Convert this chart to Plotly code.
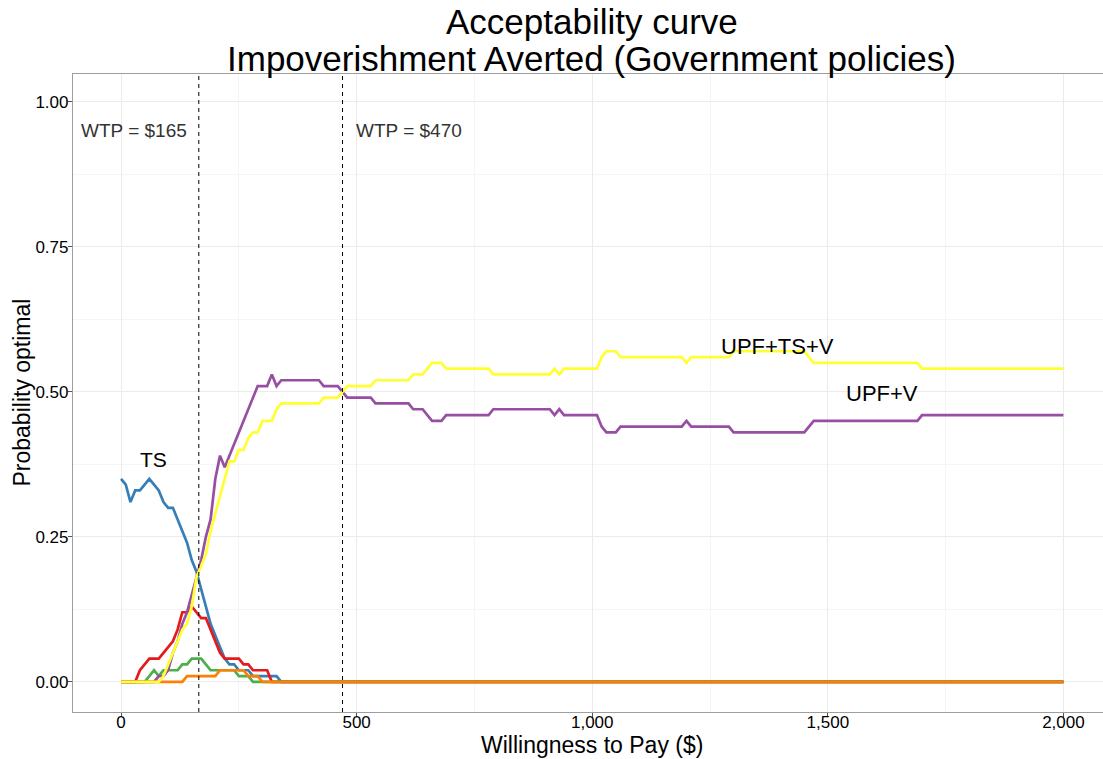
import plotly.graph_objects as go

# ---------------- data ----------------
ts_x = [0, 10, 20, 30, 40, 50, 60, 70, 80, 90, 100, 110, 120, 130, 140, 150, 160, 170,
        180, 190, 200, 210, 220, 230, 240, 250, 260, 270, 280, 290, 300, 310, 320, 330, 340, 2000]
ts_y = [0.35, 0.34, 0.31, 0.33, 0.33, 0.34, 0.35, 0.34, 0.33, 0.31, 0.30, 0.30, 0.28, 0.26, 0.24, 0.21,
        0.19, 0.16, 0.13, 0.10, 0.08, 0.06, 0.04, 0.03, 0.03, 0.02, 0.02, 0.02, 0.01, 0.01, 0.01, 0.01,
        0.01, 0.01, 0.00, 0.00]

red_x = [0, 10, 20, 30, 40, 50, 60, 70, 80, 90, 100, 110, 120, 130, 140, 150, 160, 170,
         180, 190, 200, 210, 220, 230, 240, 250, 260, 270, 280, 290, 300, 310, 320, 2000]
red_y = [0.00, 0.00, 0.00, 0.00, 0.02, 0.03, 0.04, 0.04, 0.04, 0.05, 0.06, 0.07, 0.09, 0.12, 0.12, 0.13,
         0.12, 0.11, 0.11, 0.09, 0.07, 0.05, 0.04, 0.04, 0.04, 0.04, 0.03, 0.03, 0.02, 0.02, 0.02, 0.02,
         0.00, 0.00]

green_x = [0, 10, 20, 30, 40, 50, 60, 70, 80, 90, 100, 110, 120, 130, 140, 150, 160, 170,
           180, 190, 200, 210, 220, 230, 240, 250, 260, 270, 280, 2000]
green_y = [0.00, 0.00, 0.00, 0.00, 0.00, 0.00, 0.01, 0.02, 0.01, 0.02, 0.02, 0.02, 0.02, 0.03, 0.03, 0.04,
           0.04, 0.04, 0.03, 0.02, 0.02, 0.02, 0.02, 0.02, 0.02, 0.01, 0.01, 0.01, 0.00, 0.00]

orange_x = [0, 130, 140, 200, 210, 260, 270, 290, 300, 2000]
orange_y = [0.00, 0.00, 0.01, 0.01, 0.02, 0.02, 0.01, 0.01, 0.00, 0.00]

upfv_x = [0, 70, 80, 90, 100, 110, 120, 130, 140, 150, 160, 170, 180, 190, 200, 210, 220, 230, 240,
          250, 260, 270, 280, 290, 300, 310, 320, 330, 340, 420, 430, 460, 470, 480, 530, 540, 610,
          620, 640, 650, 660, 680, 690, 780, 790, 910, 920, 930, 940, 1010, 1020, 1030, 1050, 1060,
          1190, 1200, 1210, 1290, 1300, 1450, 1460, 1470, 1690, 1700, 2000]
upfv_y = [0.00, 0.00, 0.01, 0.01, 0.02, 0.05, 0.07, 0.10, 0.12, 0.15, 0.18, 0.21, 0.25, 0.28, 0.35,
          0.39, 0.37, 0.39, 0.41, 0.43, 0.45, 0.47, 0.49, 0.51, 0.51, 0.51, 0.53, 0.51, 0.52, 0.52,
          0.51, 0.51, 0.50, 0.49, 0.49, 0.48, 0.48, 0.47, 0.47, 0.46, 0.45, 0.45, 0.46, 0.46, 0.47,
          0.47, 0.46, 0.47, 0.46, 0.46, 0.44, 0.43, 0.43, 0.44, 0.44, 0.45, 0.44, 0.44, 0.43, 0.43,
          0.44, 0.45, 0.45, 0.46, 0.46]

upftsv_x = [0, 80, 90, 100, 110, 120, 130, 140, 150, 160, 170, 180, 190, 200, 210, 220, 230, 240,
            250, 260, 270, 280, 290, 300, 310, 320, 330, 340, 420, 430, 460, 470, 480, 530, 540, 610,
            620, 640, 650, 660, 680, 690, 780, 790, 910, 920, 930, 940, 1010, 1020, 1030, 1050, 1060,
            1190, 1200, 1210, 1290, 1300, 1450, 1460, 1470, 1690, 1700, 2000]
upftsv_y = [0.00, 0.00, 0.01, 0.03, 0.05, 0.07, 0.09, 0.10, 0.13, 0.18, 0.20, 0.22, 0.26, 0.29, 0.32,
            0.35, 0.38, 0.38, 0.40, 0.40, 0.42, 0.43, 0.43, 0.45, 0.45, 0.45, 0.47, 0.48, 0.48, 0.49,
            0.49, 0.50, 0.51, 0.51, 0.52, 0.52, 0.53, 0.53, 0.54, 0.55, 0.55, 0.54, 0.54, 0.53, 0.53,
            0.54, 0.53, 0.54, 0.54, 0.56, 0.57, 0.57, 0.56, 0.56, 0.55, 0.56, 0.56, 0.57, 0.57, 0.56,
            0.55, 0.55, 0.54, 0.54]

wtp_values = [165, 470]
wtp_labels = ["WTP = $165", "WTP = $470"]

x_tickvals = [0, 500, 1000, 1500, 2000]
y_tickvals = [0.00, 0.25, 0.50, 0.75, 1.00]

series = [
    ("TS", ts_x, ts_y, "#377EB8"),
    ("UPF+TS", red_x, red_y, "#E41A1C"),
    ("TS+V", green_x, green_y, "#4DAF4A"),
    ("UPF+V", upfv_x, upfv_y, "#984EA3"),
    ("UPF", orange_x, orange_y, "#FF7F00"),
    ("UPF+TS+V", upftsv_x, upftsv_y, "#FFFF33"),
]

FONT = "Liberation Sans, Arial, Helvetica, sans-serif"

fig = go.Figure()
for name, xs, ys, col in series:
    fig.add_trace(go.Scatter(x=xs, y=ys, mode="lines", name=name,
                             line=dict(color=col, width=2.7), showlegend=False))

# WTP dashed lines
for v in wtp_values:
    fig.add_shape(type="line", xref="x", yref="paper", x0=v, x1=v, y0=0, y1=1,
                  line=dict(color="black", width=1, dash="4px,4px"))

fig.add_annotation(x=wtp_values[0] - 21, y=0.95, xref="x", yref="y", text=wtp_labels[0],
                   showarrow=False, xanchor="right", yanchor="middle",
                   font=dict(family=FONT, size=19, color="#333333"))
fig.add_annotation(x=wtp_values[1] + 24, y=0.95, xref="x", yref="y", text=wtp_labels[1],
                   showarrow=False, xanchor="left", yanchor="middle",
                   font=dict(family=FONT, size=19, color="#333333"))

# series labels
fig.add_annotation(x=69, y=0.383, text="TS", showarrow=False,
                   font=dict(family=FONT, size=21, color="black"))
fig.add_annotation(x=1393, y=0.579, text="UPF+TS+V", showarrow=False,
                   font=dict(family=FONT, size=22, color="black"))
fig.add_annotation(x=1615, y=0.498, text="UPF+V", showarrow=False,
                   font=dict(family=FONT, size=22, color="black"))

# titles
fig.add_annotation(x=0.5034, y=1.083, xref="paper", yref="paper", text="Acceptability curve",
                   showarrow=False, xanchor="center", yanchor="middle",
                   font=dict(family=FONT, size=35, color="black"))
fig.add_annotation(x=0.5034, y=1.025, xref="paper", yref="paper",
                   text="Impoverishment Averted (Government policies)",
                   showarrow=False, xanchor="center", yanchor="middle",
                   font=dict(family=FONT, size=35, color="black"))
fig.add_annotation(x=0.5034, y=-0.052, xref="paper", yref="paper", text="Willingness to Pay ($)",
                   showarrow=False, xanchor="center", yanchor="middle",
                   font=dict(family=FONT, size=23, color="black"))
fig.add_annotation(x=-0.05, y=0.5, xref="paper", yref="paper", text="Probability optimal",
                   showarrow=False, xanchor="center", yanchor="middle", textangle=-90,
                   font=dict(family=FONT, size=23, color="black"))

fig.update_layout(
    width=1103, height=759,
    margin=dict(l=73, r=0, t=74, b=47),
    paper_bgcolor="white", plot_bgcolor="white",
    font=dict(family=FONT, size=17, color="black"),
    xaxis=dict(range=[-102, 2084], tickvals=x_tickvals, tickformat=",",
               showgrid=True, gridcolor="#EBEBEB", gridwidth=1,
               minor=dict(dtick=250, tick0=250, showgrid=True, gridcolor="#F5F5F5", gridwidth=1),
               zeroline=False, showline=True, linecolor="#9E9E9E", linewidth=1.2, mirror=True,
               ticks="outside", ticklen=4, tickcolor="#555555", ticklabelstandoff=-10,
               tickfont=dict(family=FONT, size=17, color="black")),
    yaxis=dict(range=[-0.052, 1.048], tickvals=y_tickvals, tickformat=".2f",
               showgrid=True, gridcolor="#EBEBEB", gridwidth=1,
               minor=dict(dtick=0.125, tick0=0.125, showgrid=True, gridcolor="#F5F5F5", gridwidth=1),
               zeroline=False, showline=True, linecolor="#9E9E9E", linewidth=1.2, mirror=False,
               ticks="outside", ticklen=4, tickcolor="#555555", ticklabelstandoff=-4,
               tickfont=dict(family=FONT, size=17, color="black")),
)

fig.write_html("out.html", config={"displayModeBar": False},
               post_script="document.body.style.margin='0';document.body.style.overflow='hidden';")
